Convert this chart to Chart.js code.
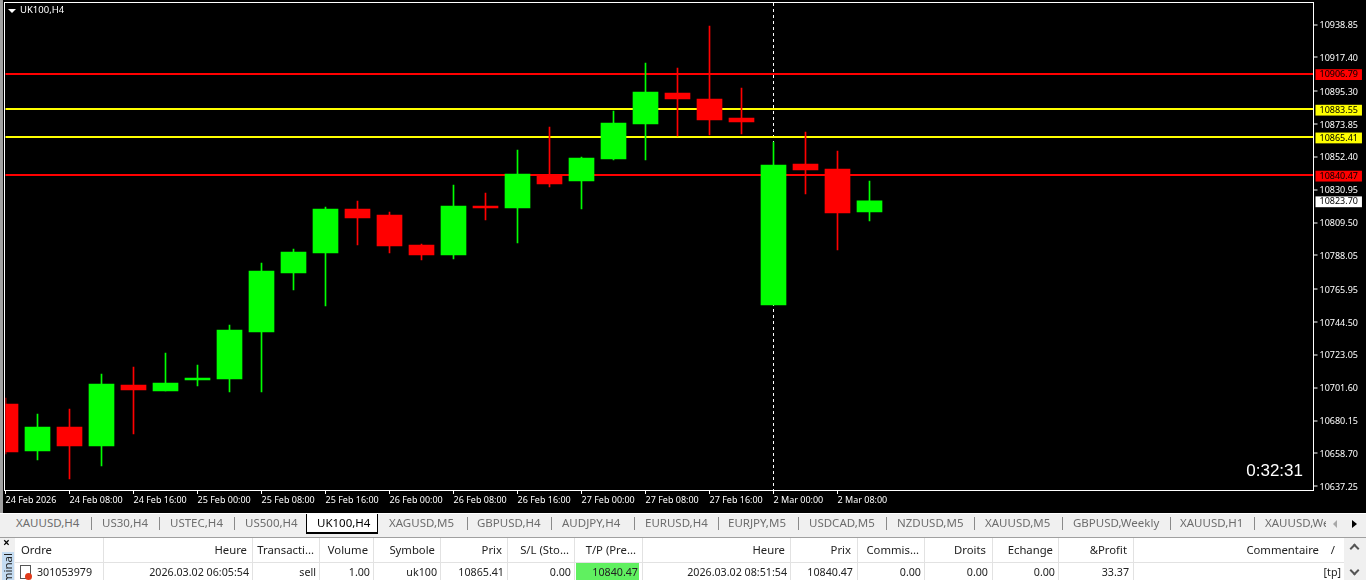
<!DOCTYPE html>
<html>
<head>
<meta charset="utf-8">
<title>UK100,H4</title>
<script src="https://cdn.jsdelivr.net/npm/chart.js@4"></script>
<style>
html, body { margin: 0; padding: 0; background: #000; overflow: hidden; }
body { width: 1366px; height: 580px; position: relative; font-family: "Noto Sans", sans-serif; }
#chartBox { position: absolute; left: 0; top: 0; width: 1366px; height: 513px; }
#leftEdge { position: absolute; left: 0; top: 0; width: 3px; height: 513px; background: #a0a0a0; }
#title { position: absolute; left: 20px; top: 4px; color: #fff; font-size: 9.5px; line-height: 12px; }
#arrow { position: absolute; left: 8px; top: 9px; width: 0; height: 0; border-left: 4px solid transparent; border-right: 4px solid transparent; border-top: 4px solid #fff; }
#timer { position: absolute; right: 63px; top: 461px; color: #fff; font: 17px "Liberation Sans", sans-serif; line-height: 20px; }
#tabs { position: absolute; left: 0; top: 513px; width: 1366px; height: 24px; background: #f0f0f0; border-top: 1px solid #fff; box-sizing: border-box; font-size: 11.5px; color: #6d6d6d; overflow: hidden; }
#tabs span { position: absolute; top: 1px; white-space: nowrap; line-height: 16px; }
#tabs i { position: absolute; top: 3px; width: 1px; height: 13px; background: #8a8a8a; }
#activeTab { position: absolute; left: 306px; top: 0; width: 70px; height: 18px; background: #fff; border: 1px solid #000; border-top: 0; border-bottom-width: 2px; }
#tabPrev { position: absolute; left: 1333px; top: 6px; border-top: 4px solid transparent; border-bottom: 4px solid transparent; border-right: 4px solid #a8a8a8; }
#tabNext { position: absolute; left: 1352px; top: 6px; border-top: 4px solid transparent; border-bottom: 4px solid transparent; border-left: 5px solid #000; }
#table { position: absolute; left: 0; top: 537px; width: 1366px; height: 43px; background: #fff; border-top: 1px solid #a0a0a0; box-sizing: border-box; font-size: 11.3px; color: #222; overflow: hidden; }
#table span { position: absolute; white-space: nowrap; line-height: 16px; }
#table span.cell { font-size: 10.7px; }
#table i { position: absolute; top: 0; width: 1px; height: 42px; background: #e2e2e2; }
#side { position: absolute; left: 0; top: 0; width: 15px; height: 43px; background: #f0f0f0; }
#closeMark { left: 3px; top: -3px; font-weight: bold; font-size: 12px; color: #000; }
#sideTab { position: absolute; left: 2px; top: 14px; width: 12px; height: 29px; background: #c4dcf2; overflow: hidden; }
#sideTab span { position: absolute; left: -1px; top: 1px; writing-mode: vertical-rl; transform: rotate(180deg); font-size: 11.5px; line-height: 14px; }
#rowLine { position: absolute; left: 15px; top: 24px; width: 1329px; height: 1px; background: #e2e2e2; }
#tpCell { position: absolute; left: 576px; top: 25px; width: 63px; height: 18px; background: #60f060; }
#scroll { position: absolute; left: 1344px; top: 0; width: 22px; height: 43px; background: #f0f0f0; }
.chevron { position: absolute; left: 1351px; width: 5px; height: 5px; border-left: 2px solid #555; border-top: 2px solid #555; box-sizing: content-box; }
#chevUp { top: 7px; transform: rotate(45deg); }
#chevDown { top: 29px; transform: rotate(225deg); }
#icon { position: absolute; left: 20px; top: 27px; width: 9px; height: 12px; background: #fff; border: 1px solid #555; }
#dot { position: absolute; left: 25px; top: 35px; width: 7px; height: 7px; border-radius: 50%; background: #e03a1a; }
</style>
</head>
<body>
<div id="chartBox"><canvas id="candles" width="1366" height="513"></canvas></div>
<div id="leftEdge"></div>
<div id="arrow"></div>
<div id="title">UK100,H4</div>
<div id="timer">0:32:31</div>
<div id="tabs"><div id="activeTab"></div><div id="tabPrev"></div><div id="tabNext"></div></div>
<div id="table">
  <div id="tpCell"></div>
  <div id="rowLine"></div>
  <div id="scroll"></div>
  <div class="chevron" id="chevUp"></div>
  <div class="chevron" id="chevDown"></div>
  <div id="side"><span id="closeMark">×</span><div id="sideTab"><span>Terminal</span></div></div>
  <div id="icon"></div><div id="dot"></div>
</div>
<script>
const candleTimes = [
    "24 Feb 2026", "24 Feb 04:00", "24 Feb 08:00", "24 Feb 12:00", "24 Feb 16:00", "24 Feb 20:00",
    "25 Feb 00:00", "25 Feb 04:00", "25 Feb 08:00", "25 Feb 12:00", "25 Feb 16:00", "25 Feb 20:00",
    "26 Feb 00:00", "26 Feb 04:00", "26 Feb 08:00", "26 Feb 12:00", "26 Feb 16:00", "26 Feb 20:00",
    "27 Feb 00:00", "27 Feb 04:00", "27 Feb 08:00", "27 Feb 12:00", "27 Feb 16:00", "27 Feb 20:00",
    "2 Mar 00:00", "2 Mar 04:00", "2 Mar 08:00", "2 Mar 12:00"
];
const opens = [10690.98, 10660.28, 10675.96, 10663.54, 10703.39, 10699.47, 10706.65, 10707.31, 10738.00, 10776.54, 10789.61, 10818.35, 10814.43, 10794.84, 10788.30, 10820.31, 10819.00, 10840.56, 10836.64, 10851.01, 10873.87, 10894.12, 10890.20, 10877.79, 10755.64, 10847.75, 10844.48, 10816.39];
const highs = [10694.90, 10684.45, 10687.72, 10710.57, 10715.14, 10724.29, 10716.45, 10742.58, 10783.08, 10792.23, 10819.66, 10823.58, 10816.39, 10795.49, 10834.03, 10828.80, 10856.89, 10871.91, 10852.32, 10882.36, 10913.72, 10910.45, 10937.89, 10897.39, 10862.11, 10868.65, 10856.23, 10836.64];
const lows = [10658.31, 10654.39, 10641.98, 10650.47, 10671.38, 10699.47, 10702.74, 10698.82, 10698.82, 10765.44, 10754.99, 10794.84, 10789.61, 10785.04, 10785.69, 10811.17, 10796.14, 10832.72, 10818.35, 10850.36, 10850.36, 10866.03, 10866.69, 10867.34, 10755.64, 10828.15, 10791.57, 10810.51];
const closes = [10659.62, 10675.96, 10663.54, 10704.04, 10700.12, 10704.69, 10707.96, 10739.31, 10777.85, 10790.26, 10818.35, 10812.47, 10794.19, 10788.30, 10820.31, 10819.00, 10841.21, 10834.68, 10851.66, 10874.53, 10894.78, 10890.20, 10876.49, 10875.18, 10847.09, 10843.83, 10815.74, 10823.70];

const priceTicks = [10938.85, 10917.40, 10895.30, 10873.85, 10852.40, 10830.95, 10809.50, 10788.05, 10765.95, 10744.50, 10723.05, 10701.60, 10680.15, 10658.70, 10637.25];
const redLevels = [10906.79, 10840.47];
const yellowLevels = [10883.55, 10865.41];
const lastPrice = 10823.70;

const tabNames = ["XAUUSD,H4", "US30,H4", "USTEC,H4", "US500,H4", "UK100,H4", "XAGUSD,M5", "GBPUSD,H4", "AUDJPY,H4", "EURUSD,H4", "EURJPY,M5", "USDCAD,M5", "NZDUSD,M5", "XAUUSD,M5", "GBPUSD,Weekly", "XAUUSD,H1", "XAUUSD,We"];
const tabLeft = [16, 102, 170, 245, 317, 389, 477, 562, 645, 728, 809, 897, 985, 1073, 1180, 1265];
const tabSeps = [91, 159, 234, 467, 551, 634, 718, 798, 886, 974, 1062, 1170, 1254];
const headers = ["Ordre", "Heure", "Transacti...", "Volume", "Symbole", "Prix", "S/L (Sto...", "T/P (Pre...", "Heure", "Prix", "Commis...", "Droits", "Echange", "&Profit", "Commentaire"];
const row = ["301053979", "2026.03.02 06:05:54", "sell", "1.00", "uk100", "10865.41", "0.00", "10840.47", "2026.03.02 08:51:54", "10840.47", "0.00", "0.00", "0.00", "33.37", "[tp]"];
const headerRight = [52, 247, 314, 368, 435, 502, 569, 636, 785, 851, 919, 986, 1053, 1127, 1319];
const rowRight = [92, 249, 316, 370, 437, 504, 571, 638, 787, 853, 921, 988, 1055, 1129, 1341];
const colSeps = [103, 252, 319, 373, 440, 507, 574, 642, 790, 857, 924, 992, 1058, 1133];

const candleColor = ctx => closes[ctx.dataIndex] >= opens[ctx.dataIndex] ? "#00ff00" : "#ff0000";
const allLevels = redLevels.concat(yellowLevels);
const axisFont = { family: "Noto Sans", size: 9 };

function levelColor(value) {
    if (redLevels.includes(value)) return "#ff0000";
    if (yellowLevels.includes(value)) return "#ffff00";
    if (value === lastPrice) return "#ffffff";
    return null;
}

const frame = {
    id: "frame",
    afterDraw(chart) {
        const a = chart.chartArea;
        const c = chart.ctx;
        c.save();
        c.strokeStyle = "#fff";
        c.lineWidth = 1;
        c.strokeRect(a.left - 1, a.top - 0.5, a.width + 1, a.height + 1);
        c.restore();
    }
};

new Chart(document.getElementById("candles"), {
    type: "bar",
    data: {
        datasets: [
            {
                label: "Body",
                data: opens.map((o, i) => ({ x: i, y: [o, closes[i]] })),
                backgroundColor: candleColor,
                barThickness: 25,
                order: 1
            },
            {
                label: "Wick",
                data: highs.map((h, i) => ({ x: i, y: [lows[i], h] })),
                backgroundColor: candleColor,
                barThickness: 1,
                order: 2
            }
        ]
    },
    plugins: [frame],
    options: {
        responsive: false,
        animation: false,
        layout: { padding: { left: 5.5, top: 3, right: 0, bottom: 0 } },
        plugins: { legend: { display: false }, tooltip: { enabled: false } },
        datasets: { bar: { grouped: false } },
        scales: {
            x: {
                type: "linear",
                offset: false,
                min: 0,
                max: 40.875,
                afterBuildTicks: s => { s.ticks = candleTimes.map((t, i) => ({ value: i })).filter(t => t.value % 2 === 0); },
                afterFit: s => { s.height = 23; s.paddingLeft = 0; s.paddingRight = 0; },
                border: { display: false, dash: [3, 3] },
                grid: {
                    offset: false,
                    color: ctx => ctx.tick && ctx.tick.value === 24 ? "#ffffff" : "transparent",
                    tickColor: "#ffffff",
                    tickLength: 4,
                    tickBorderDash: []
                },
                ticks: {
                    color: "#ffffff",
                    font: axisFont,
                    align: "start",
                    autoSkip: false,
                    maxRotation: 0,
                    padding: 1,
                    callback: v => candleTimes[v]
                }
            },
            y: {
                position: "right",
                min: 10634.79,
                max: 10952.91,
                afterBuildTicks: s => { s.ticks = priceTicks.concat(allLevels, [lastPrice]).map(v => ({ value: v })); },
                afterFit: s => { s.width = 52.5; s.paddingTop = 0; s.paddingBottom = 0; },
                border: { display: false },
                grid: {
                    color: ctx => {
                        const c = ctx.tick ? levelColor(ctx.tick.value) : null;
                        return c && ctx.tick.value !== lastPrice ? c : "transparent";
                    },
                    lineWidth: 2,
                    tickColor: ctx => ctx.tick && levelColor(ctx.tick.value) ? "transparent" : "#ffffff",
                    tickWidth: 1,
                    tickLength: 4
                },
                ticks: {
                    font: axisFont,
                    autoSkip: false,
                    padding: 2,
                    labelOffset: 1,
                    color: ctx => levelColor(ctx.tick.value) ? "#000000" : "#ffffff",
                    showLabelBackdrop: ctx => levelColor(ctx.tick.value) !== null,
                    backdropColor: ctx => levelColor(ctx.tick.value) || "transparent",
                    backdropPadding: { top: 0, bottom: 0, left: 4, right: 4 },
                    callback: v => v.toFixed(2)
                }
            }
        }
    }
});

// terminal strip under the chart
const tabs = document.getElementById("tabs");
tabNames.forEach((name, i) => {
    const s = document.createElement("span");
    s.textContent = name;
    s.style.left = tabLeft[i] + "px";
    if (name === "UK100,H4") s.style.color = "#000";
    if (name === "XAUUSD,We") { s.style.width = "61px"; s.style.overflow = "hidden"; }
    tabs.appendChild(s);
});
tabSeps.forEach(x => {
    const b = document.createElement("i");
    b.style.left = x + "px";
    tabs.appendChild(b);
});

const table = document.getElementById("table");
function addCell(text, right, top, cls) {
    const s = document.createElement("span");
    s.textContent = text;
    s.style.right = (1366 - right) + "px";
    s.style.top = top + "px";
    if (cls) s.className = cls;
    table.appendChild(s);
}
headers.forEach((h, i) => addCell(h, headerRight[i], 4));
row.forEach((v, i) => addCell(v, rowRight[i], 26, "cell"));
addCell("/", 1335, 4);
colSeps.forEach(x => {
    const b = document.createElement("i");
    b.style.left = x + "px";
    table.appendChild(b);
});
</script>
</body>
</html>
